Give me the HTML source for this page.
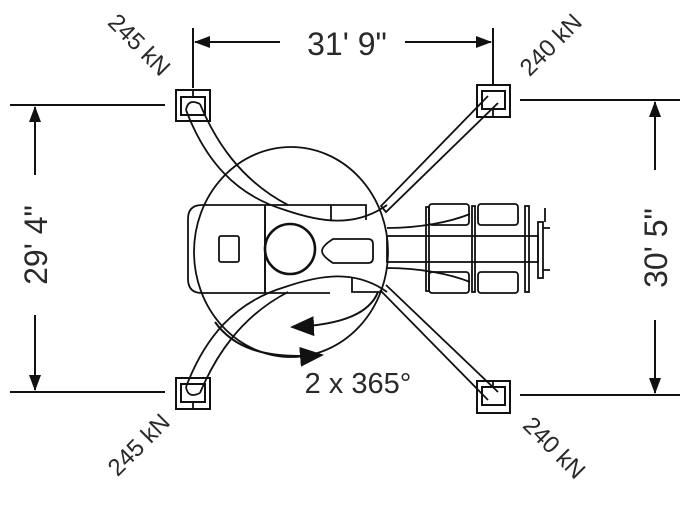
<!DOCTYPE html>
<html><head><style>
html,body{margin:0;padding:0;background:#fff;}
svg{display:block;}
text{font-family:"Liberation Sans",sans-serif;fill:#2a2a2a;}
</style></head><body>
<svg width="690" height="509" viewBox="0 0 690 509" xmlns="http://www.w3.org/2000/svg">
<defs>
<marker id="a" markerWidth="16" markerHeight="12" refX="15" refY="6" orient="auto" markerUnits="userSpaceOnUse">
<path d="M0,0 L16,6 L0,12 Z" fill="#111"/></marker>
<marker id="b" markerWidth="24" markerHeight="20" refX="22" refY="10" orient="auto" markerUnits="userSpaceOnUse">
<path d="M0,0 L24,10 L0,20 Z" fill="#111"/></marker>
</defs>
<g stroke="#111" stroke-width="2" fill="none">
<line x1="193" y1="28" x2="193" y2="88"/>
<line x1="493" y1="28" x2="493" y2="84"/>
<line x1="280" y1="42" x2="195" y2="42" marker-end="url(#a)"/>
<line x1="405" y1="42" x2="491" y2="42" marker-end="url(#a)"/>
<line x1="10" y1="105" x2="165" y2="105"/>
<line x1="10" y1="392" x2="165" y2="392"/>
<line x1="35" y1="175" x2="35" y2="107" marker-end="url(#a)"/>
<line x1="35" y1="315" x2="35" y2="390" marker-end="url(#a)"/>
<line x1="520" y1="100" x2="680" y2="100"/>
<line x1="520" y1="395" x2="680" y2="395"/>
<line x1="655" y1="170" x2="655" y2="102" marker-end="url(#a)"/>
<line x1="655" y1="320" x2="655" y2="393" marker-end="url(#a)"/>
</g>
<g stroke="#111" stroke-width="1.8" fill="none">
<ellipse cx="291" cy="252" rx="97" ry="105"/>
<!-- pads -->
<g stroke-width="2">
<rect x="176" y="90" width="34" height="31"/><rect x="181" y="97" width="24" height="18"/>
<rect x="477" y="85" width="33" height="32"/><rect x="482" y="91" width="23" height="18"/>
<rect x="176" y="378" width="34" height="31"/><rect x="181" y="384" width="24" height="18"/>
<rect x="477" y="381" width="33" height="32"/><rect x="482" y="387" width="23" height="18"/>
</g>
<path d="M193,90 L193,97 M193,402 L193,409 M493,381 L493,387 M493,109 L493,117"/>
<!-- top-left arm -->
<g fill="none">
<path d="M200,104 C215,140 240,180 288,205" stroke="#fff" stroke-width="0"/>
</g>
<path d="M186,110 C205,160 235,195 285,210 C320,222 355,228 387,205" />
<path d="M200,104 C215,140 240,180 288,205"/>
<path d="M186,110 Q188,98 200,104"/>
<!-- bottom-left arm -->
<path d="M186,387 C205,337 235,302 285,287 C320,275 355,269 387,292"/>
<path d="M200,393 C215,357 240,317 288,292"/>
<path d="M186,387 Q188,399 200,393"/>
<!-- right arms -->
<path d="M488,96 L381,206 L386,212 L498,103"/>
<path d="M380,290 L488,400 M386,285 L498,392"/>
<!-- hull -->
<path d="M265,205 L331,205 M265,293 L330,293 M265,205 L265,293"/>
<path d="M331,220 L331,205 L366,205 L366,220"/>
<path d="M352,277 L352,292 L382,292"/>
<path d="M202,205 L265,205 L265,293 L202,293 Q188,293 188,279 L188,219 Q188,205 202,205 Z"/>
<rect x="219" y="236" width="20" height="26" rx="2"/>
<circle cx="290" cy="249" r="25" stroke-width="2.6"/>
<path d="M333,239 L368,239 Q373,239 373,244 L373,258 Q373,263 368,263 L333,263 Q322,256 322,251 Q322,246 333,239 Z"/>
<!-- front chassis -->
<rect x="429" y="204" width="40" height="21" rx="3"/>
<rect x="478" y="204" width="40" height="21" rx="3"/>
<rect x="429" y="272" width="40" height="21" rx="3"/>
<rect x="478" y="272" width="40" height="21" rx="3"/>
<rect x="426" y="207" width="3" height="84"/>
<rect x="472" y="206" width="3" height="86"/>
<rect x="525" y="206" width="4" height="86"/>
<path d="M387,228 C420,228 450,222 470,214"/>
<path d="M387,268 C420,268 450,274 470,282"/>
<rect x="387" y="236" width="151" height="26"/>
<rect x="538" y="222" width="5" height="56"/>
<path d="M543,228 L550,228 M543,270 L550,270 M545,208 L545,222"/>
<!-- rotation arrows -->
<path d="M378,292 C370,312 345,325 292,327" stroke-width="2" marker-end="url(#b)"/>
<path d="M215,322 C232,346 262,360 322,355" stroke-width="2" marker-end="url(#b)"/>
</g>
<text x="347" y="55" font-size="32" text-anchor="middle">31' 9"</text>
<text transform="translate(47,245) rotate(-90)" font-size="32" text-anchor="middle">29' 4"</text>
<text transform="translate(667,248) rotate(-90)" font-size="32" text-anchor="middle">30' 5"</text>
<text x="358" y="393" font-size="29" text-anchor="middle">2 x 365°</text>
<text transform="translate(138,46) rotate(45)" font-size="24" text-anchor="middle" dominant-baseline="middle">245 kN</text>
<text transform="translate(552,46) rotate(-45)" font-size="24" text-anchor="middle" dominant-baseline="middle">240 kN</text>
<text transform="translate(140,446) rotate(-45)" font-size="24" text-anchor="middle" dominant-baseline="middle">245 kN</text>
<text transform="translate(553,449) rotate(45)" font-size="24" text-anchor="middle" dominant-baseline="middle">240 kN</text>
</svg>
</body></html>
